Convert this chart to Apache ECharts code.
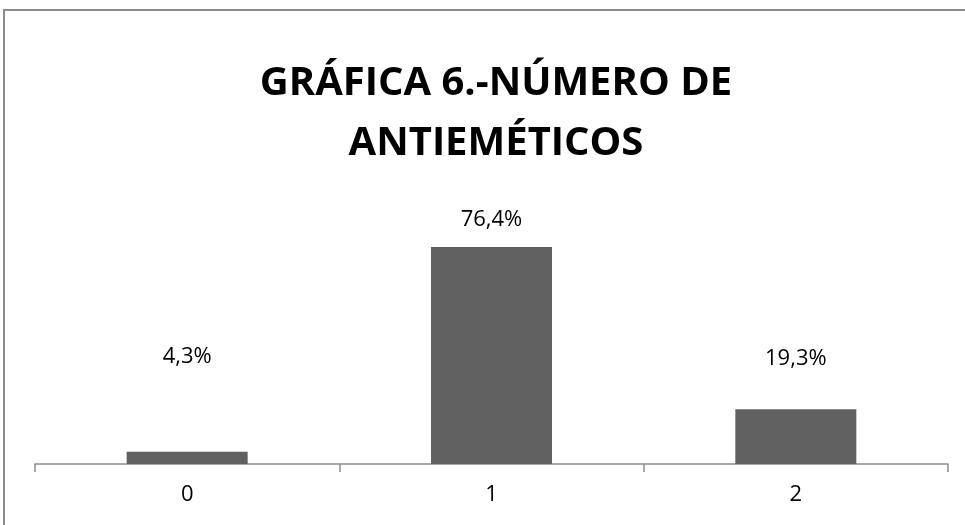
<!DOCTYPE html>
<html>
<head>
<meta charset="utf-8">
<title>Gráfica 6</title>
<script src="https://cdn.jsdelivr.net/npm/echarts@6/dist/echarts.min.js"></script>
<style>
  html, body { margin: 0; padding: 0; background: #ffffff; }
  #chart { width: 965px; height: 525px; }
</style>
</head>
<body>
<div id="chart"></div>
<script>
// Número de antieméticos por paciente (%)
const categories = ['0', '1', '2'];
const percentages = [4.3, 76.4, 19.3];
// vertical nudge of each value label above its bar
const labelOffsets = [-79, -11, -34];

const FONT = '"Open Sans", "Noto Sans", sans-serif';

const chart = echarts.init(document.getElementById('chart'), null, { renderer: 'canvas' });

chart.setOption({
  backgroundColor: '#ffffff',
  animation: false,
  title: {
    text: 'GRÁFICA 6.-NÚMERO DE\nANTIEMÉTICOS',
    left: 491,
    top: 49,
    textAlign: 'center',
    textStyle: {
      fontFamily: FONT,
      fontWeight: 'bold',
      fontSize: 40,
      lineHeight: 60,
      color: '#000000'
    }
  },
  graphic: [{
    type: 'rect',
    shape: { x: 4, y: 10, width: 1000, height: 600 },
    style: { fill: 'none', stroke: '#8c8c8c', lineWidth: 2 },
    silent: true
  }],
  grid: { left: 35, right: 17, top: 180, bottom: 61 },
  xAxis: {
    type: 'category',
    data: categories,
    axisLine: { lineStyle: { color: '#8c8c8c', width: 1.5 } },
    axisTick: { show: true, length: 8, lineStyle: { color: '#8c8c8c', width: 1.5 } },
    axisLabel: { color: '#000000', fontFamily: FONT, fontSize: 22, margin: 20 }
  },
  yAxis: {
    type: 'value',
    min: 0,
    max: 100,
    show: false,
    splitLine: { show: false }
  },
  series: [{
    type: 'bar',
    barWidth: 121,
    itemStyle: { color: '#606060' },
    data: percentages.map((v, i) => ({
      value: v,
      label: { offset: [0, labelOffsets[i]] }
    })),
    label: {
      show: true,
      position: 'top',
      distance: 5,
      color: '#000000',
      fontFamily: FONT,
      fontSize: 22,
      formatter: p => p.value.toFixed(1).replace('.', ',') + '%'
    }
  }]
});
</script>
</body>
</html>
